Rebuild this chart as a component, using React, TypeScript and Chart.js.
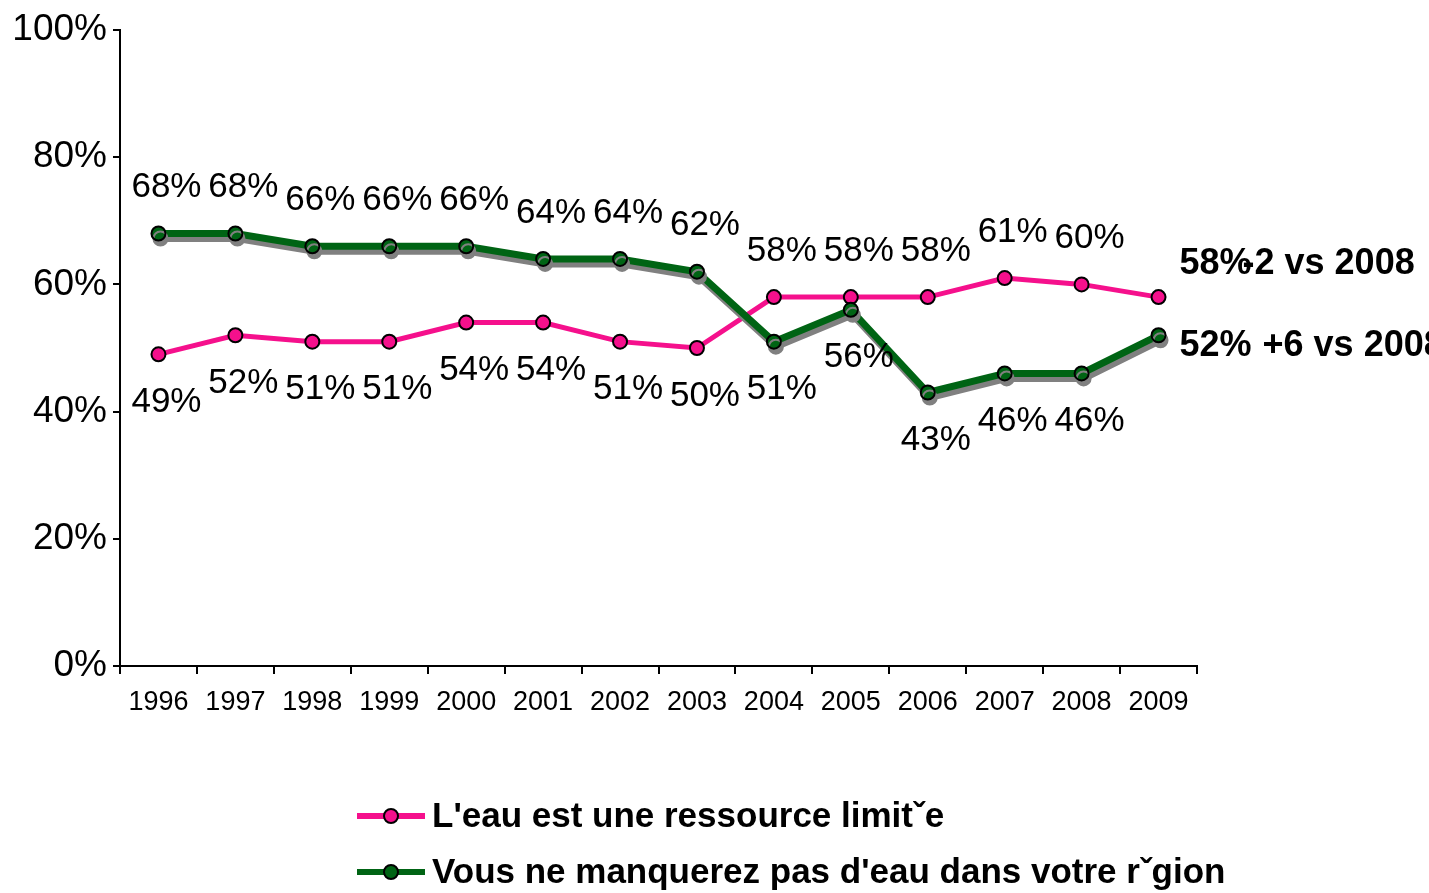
import React, { useEffect, useRef } from "react";
import { Chart, registerables } from "chart.js";

Chart.register(...registerables);

const years = ["1996", "1997", "1998", "1999", "2000", "2001", "2002", "2003", "2004", "2005", "2006", "2007", "2008", "2009"];
const limitedResource = [49, 52, 51, 51, 54, 54, 51, 50, 58, 58, 58, 61, 60, 58];
const noShortage = [68, 68, 66, 66, 66, 64, 64, 62, 51, 56, 43, 46, 46, 52];
const seriesNames = ["L'eau est une ressource limitˇe", "Vous ne manquerez pas d'eau dans votre rˇgion"];
const changeLabels = ["-2 vs 2008", "+6 vs 2008"];

const PINK = "#F5108C";
const GREEN = "#006414";
const FONT = "'Liberation Sans', Arial, Helvetica, sans-serif";

const shadowPlugin = {
  id: "greenShadow",
  beforeDatasetDraw(chart: any, args: any) {
    if (args.index === 1) {
      const ctx = chart.ctx;
      ctx.save();
      ctx.shadowColor = "#808080";
      ctx.shadowOffsetX = 2;
      ctx.shadowOffsetY = 5;
      ctx.shadowBlur = 0;
    }
  },
  afterDatasetDraw(chart: any, args: any) {
    if (args.index === 1) chart.ctx.restore();
  },
};

const labelPlugin = {
  id: "valueLabels",
  afterDatasetsDraw(chart: any) {
    const ctx = chart.ctx;
    const series = [limitedResource, noShortage];
    const n = years.length;
    ctx.save();
    ctx.fillStyle = "#000";
    ctx.textBaseline = "middle";
    for (let d = 0; d < 2; d++) {
      const meta = chart.getDatasetMeta(d);
      const vals = series[d];
      const other = series[1 - d];
      for (let i = 0; i < n - 1; i++) {
        const pt = meta.data[i];
        const above = vals[i] >= other[i];
        ctx.font = `35px ${FONT}`;
        ctx.textAlign = "center";
        ctx.fillText(vals[i] + "%", pt.x + 8, pt.y + (above ? -46 : 48));
      }
      const last = meta.data[n - 1];
      const ly = last.y + (d === 0 ? -33 : 11);
      ctx.font = `bold 36px ${FONT}`;
      ctx.textAlign = "left";
      ctx.fillText(vals[n - 1] + "%", last.x + 21, ly);
      ctx.fillText(changeLabels[d], last.x + (d === 0 ? 84 : 104), ly);
    }
    ctx.restore();
  },
};

const legendPlugin = {
  id: "customLegend",
  afterDraw(chart: any) {
    const ctx = chart.ctx;
    const colors = [PINK, GREEN];
    const rows = [816, 872];
    ctx.save();
    for (let d = 0; d < 2; d++) {
      const y = rows[d];
      ctx.strokeStyle = colors[d];
      ctx.lineWidth = 6;
      ctx.beginPath();
      ctx.moveTo(357, y);
      ctx.lineTo(425, y);
      ctx.stroke();
      ctx.beginPath();
      ctx.arc(391, y, 7, 0, Math.PI * 2);
      ctx.fillStyle = colors[d];
      ctx.fill();
      ctx.lineWidth = 2;
      ctx.strokeStyle = "#000";
      ctx.stroke();
      ctx.fillStyle = "#000";
      ctx.font = `bold 35px ${FONT}`;
      ctx.textAlign = "left";
      ctx.textBaseline = "middle";
      ctx.fillText(seriesNames[d], 432, y + 1);
    }
    ctx.restore();
  },
};

export default function App() {
  const ref = useRef<HTMLCanvasElement | null>(null);
  useEffect(() => {
    if (!ref.current) return;
    Chart.defaults.font.family = FONT;
    Chart.defaults.color = "#000";
    const chart = new Chart(ref.current, {
      type: "line",
      data: {
        labels: years,
        datasets: [
          {
            label: seriesNames[0],
            data: limitedResource,
            borderColor: PINK,
            backgroundColor: PINK,
            borderWidth: 5,
            pointRadius: 7,
            pointBorderWidth: 2,
            pointBorderColor: "#000",
            pointBackgroundColor: PINK,
            tension: 0,
            order: 1,
          },
          {
            label: seriesNames[1],
            data: noShortage,
            borderColor: GREEN,
            backgroundColor: GREEN,
            borderWidth: 7,
            pointRadius: 7,
            pointBorderWidth: 2,
            pointBorderColor: "#000",
            pointBackgroundColor: GREEN,
            tension: 0,
            order: 0,
          },
        ],
      },
      options: {
        responsive: false,
        animation: false,
        layout: { padding: { top: 30, right: 232, bottom: 0, left: 0 } },
        plugins: { legend: { display: false }, tooltip: { enabled: false } },
        scales: {
          x: {
            offset: true,
            grid: { offset: true, drawOnChartArea: false, drawTicks: true, tickLength: 8, color: "#000", lineWidth: 2 },
            border: { color: "#000", width: 2 },
            ticks: { font: { size: 27 }, padding: 12, maxRotation: 0, autoSkip: false, color: "#000" },
            afterFit: (s: any) => { s.height = 227; },
          },
          y: {
            min: 0,
            max: 100,
            ticks: { stepSize: 20, font: { size: 37 }, padding: 6, color: "#000", callback: (v: any) => v + "%" },
            grid: { drawOnChartArea: false, drawTicks: true, tickLength: 7, color: "#000", lineWidth: 2 },
            border: { color: "#000", width: 2 },
            afterFit: (s: any) => { s.width = 120; },
          },
        },
      },
      plugins: [shadowPlugin, labelPlugin, legendPlugin],
    });
    return () => chart.destroy();
  }, []);
  return (
    <div style={{ position: "fixed", left: 0, top: 0, width: 1429, height: 893, background: "#fff" }}>
      <canvas ref={ref} width={1429} height={893} style={{ width: 1429, height: 893 }} />
    </div>
  );
}
